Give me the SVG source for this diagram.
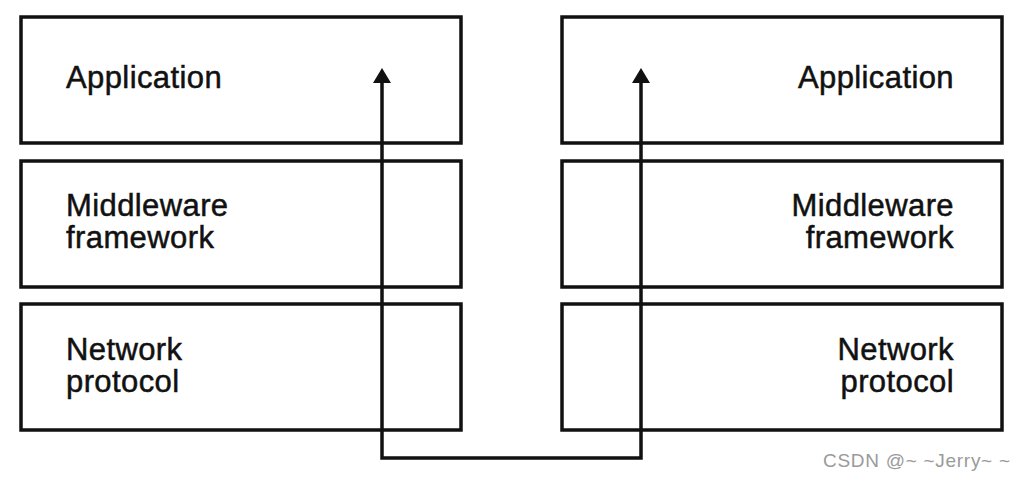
<svg xmlns="http://www.w3.org/2000/svg" width="1024" height="478" viewBox="0 0 1024 478">
  <style>
    .box { fill: #ffffff; stroke: #111111; stroke-width: 3.5; }
    .lbl { font-family: "Liberation Sans", Arial, sans-serif; font-size: 31px; fill: #111111; stroke: #111111; stroke-width: 0.5; letter-spacing: 0.4px; }
    .r { text-anchor: end; }
    .conn { fill: none; stroke: #111111; stroke-width: 3.5; }
    .wm { font-family: "Liberation Sans", Arial, sans-serif; font-size: 19px; fill: #9a9a9a; }
  </style>
  <defs>
    <marker id="arrow" viewBox="0 0 15 18" refX="0" refY="9" markerWidth="15" markerHeight="18" markerUnits="userSpaceOnUse" orient="auto-start-reverse">
      <path d="M0,0 L15,9 L0,18 z" fill="#111111"/>
    </marker>
  </defs>
  <rect width="1024" height="478" fill="#ffffff"/>

  <g id="left-application">
    <rect class="box" x="21" y="17" width="440" height="126"/>
    <text class="lbl" x="66" y="88">Application</text>
  </g>
  <g id="left-middleware">
    <rect class="box" x="21" y="161" width="440" height="126"/>
    <text class="lbl" x="66" y="216">Middleware</text>
    <text class="lbl" x="66" y="248">framework</text>
  </g>
  <g id="left-network">
    <rect class="box" x="21" y="304" width="440" height="126"/>
    <text class="lbl" x="66" y="360">Network</text>
    <text class="lbl" x="66" y="392">protocol</text>
  </g>

  <g id="right-application">
    <rect class="box" x="562" y="17" width="440" height="126"/>
    <text class="lbl r" x="954" y="88">Application</text>
  </g>
  <g id="right-middleware">
    <rect class="box" x="562" y="161" width="440" height="126"/>
    <text class="lbl r" x="954" y="216">Middleware</text>
    <text class="lbl r" x="954" y="248">framework</text>
  </g>
  <g id="right-network">
    <rect class="box" x="562" y="304" width="440" height="126"/>
    <text class="lbl r" x="954" y="360">Network</text>
    <text class="lbl r" x="954" y="392">protocol</text>
  </g>

  <g id="connectors">
    <path class="conn" d="M382,83 V458 H641 V83" marker-start="url(#arrow)" marker-end="url(#arrow)"/>
  </g>

  <text class="wm" x="823" y="467" textLength="187" lengthAdjust="spacing">CSDN @~ ~Jerry~ ~</text>
</svg>
